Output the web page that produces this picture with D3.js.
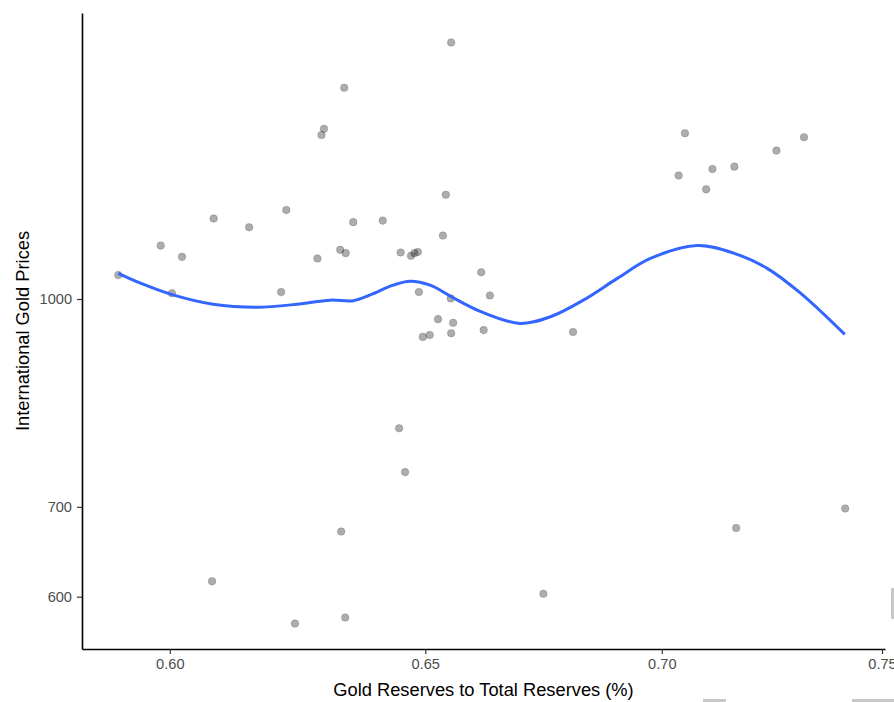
<!DOCTYPE html>
<html>
<head>
<meta charset="utf-8">
<script src="https://cdn.jsdelivr.net/npm/d3@7"></script>
<style>
  html, body { margin: 0; padding: 0; background: #fff; }
  svg { display: block; }
  text { font-family: "Liberation Sans", Arial, sans-serif; }
</style>
</head>
<body>
<svg id="chart" width="894" height="702"></svg>
<script>
// ---- data ----
const goldShare = [0.5904, 0.5983, 0.6004, 0.6023, 0.6083, 0.6080, 0.6151, 0.6213, 0.6223, 0.6240,
  0.6284, 0.6292, 0.6297, 0.6329, 0.6331, 0.6337, 0.6339, 0.6340, 0.6355, 0.6414,
  0.6447, 0.6450, 0.6459, 0.6471, 0.6478, 0.6485, 0.6487, 0.6495, 0.6509, 0.6526,
  0.6536, 0.6542, 0.6552, 0.6553, 0.6553, 0.6557, 0.6615, 0.6620, 0.6633, 0.6745,
  0.6808, 0.7037, 0.7051, 0.7098, 0.7112, 0.7161, 0.7165, 0.7256, 0.7319, 0.7414];
const goldPrice = [1042, 1096, 1010, 1075, 1148, 616, 1131, 1012, 1165, 573,
  1072, 1325, 1339, 1088, 671, 1437, 579, 1082, 1141, 1144,
  801, 1083, 743, 1077, 1082, 1084, 1012, 937, 940, 966,
  1115, 1196, 1001, 1553, 943, 960, 1047, 948, 1006, 603,
  945, 1236, 1329, 1207, 1250, 1255, 675, 1290, 1320, 698];

const smoothX = [0.5904, 0.5944, 0.6006, 0.6082, 0.6166, 0.6244, 0.6309, 0.6355, 0.6389, 0.6435,
  0.6469, 0.6510, 0.6551, 0.6613, 0.6696, 0.6760, 0.6830, 0.6903, 0.6975, 0.7078,
  0.7159, 0.7235, 0.7311, 0.7413];
const smoothY = [1045, 1028, 1007, 991, 986, 991, 998, 997, 1007, 1024,
  1031, 1024, 1005, 979, 959, 970, 998, 1036, 1072, 1096,
  1082, 1054, 1010, 941];

const xTicks = [0.60, 0.65, 0.70, 0.75];
const yTicks = [600, 700, 1000];
const xTitle = "Gold Reserves to Total Reserves (%)";
const yTitle = "International Gold Prices";

// ---- layout ----
const svg = d3.select("#chart");
const panel = { left: 82, right: 885, top: 13, bottom: 649 };

// log scales anchored on tick positions, then extended to panel edges
const xAnchor = d3.scaleLog().domain([0.60, 0.75]).range([169.8, 882]);
const x = d3.scaleLog()
  .domain([xAnchor.invert(panel.left), xAnchor.invert(panel.right)])
  .range([panel.left, panel.right]);
const yAnchor = d3.scaleLog().domain([600, 1000]).range([596.7, 299]);
const y = d3.scaleLog()
  .domain([yAnchor.invert(panel.bottom), yAnchor.invert(panel.top)])
  .range([panel.bottom, panel.top]);

// axes
const xAxis = d3.axisBottom(x).tickValues(xTicks).tickFormat(d3.format(".2f"))
  .tickSizeInner(5).tickSizeOuter(0).tickPadding(5);
const yAxis = d3.axisLeft(y).tickValues(yTicks).tickFormat(d3.format("d"))
  .tickSizeInner(5).tickSizeOuter(0).tickPadding(5);

const gx = svg.append("g").attr("transform", `translate(0,${panel.bottom})`).call(xAxis);
const gy = svg.append("g").attr("transform", `translate(${panel.left},0)`).call(yAxis);
[gx, gy].forEach(g => {
  g.select(".domain").attr("stroke", "#000").attr("stroke-width", 1.6);
  g.selectAll(".tick line").attr("stroke", "#333").attr("stroke-width", 1.2);
  g.selectAll(".tick text").attr("fill", "#4d4d4d").style("font-size", "14.6px")
    .style("font-family", "'Liberation Sans', Arial, sans-serif");
});
gx.selectAll(".tick text").attr("dy", null).attr("y", 20);

// points
const pts = goldShare.map((v, i) => ({ x: v, y: goldPrice[i] }));
svg.append("g").selectAll("circle").data(pts).join("circle")
  .attr("cx", d => x(d.x)).attr("cy", d => y(d.y)).attr("r", 3.8)
  .attr("fill", "rgba(0,0,0,0.32)")
  .attr("stroke", "rgba(0,0,0,0.2)").attr("stroke-width", 0.8);

// smooth line
const smooth = smoothX.map((v, i) => ({ x: v, y: smoothY[i] }));
svg.append("path").datum(smooth)
  .attr("fill", "none").attr("stroke", "#3366FF").attr("stroke-width", 3)
  .attr("stroke-linejoin", "round").attr("stroke-linecap", "butt")
  .attr("d", d3.line().x(d => x(d.x)).y(d => y(d.y)).curve(d3.curveCatmullRom.alpha(0.5)));

// titles
svg.append("text")
  .attr("transform", `translate(${(panel.left + panel.right) / 2},696)`)
  .attr("text-anchor", "middle").attr("fill", "#000").style("font-size", "18.3px").text(xTitle);
svg.append("text")
  .attr("transform", `translate(29,${(panel.top + panel.bottom) / 2}) rotate(-90)`)
  .attr("text-anchor", "middle").attr("fill", "#000").style("font-size", "18.3px").text(yTitle);

// light grey screen artefacts along the right / bottom edge
const artefacts = [
  { x: 891, y: 588, w: 3, h: 31 },
  { x: 703, y: 699, w: 23, h: 3 },
  { x: 852, y: 699, w: 42, h: 3 }
];
svg.append("g").selectAll("rect").data(artefacts).join("rect")
  .attr("x", d => d.x).attr("y", d => d.y).attr("width", d => d.w).attr("height", d => d.h)
  .attr("fill", "#c8c8c8");
</script>
</body>
</html>
